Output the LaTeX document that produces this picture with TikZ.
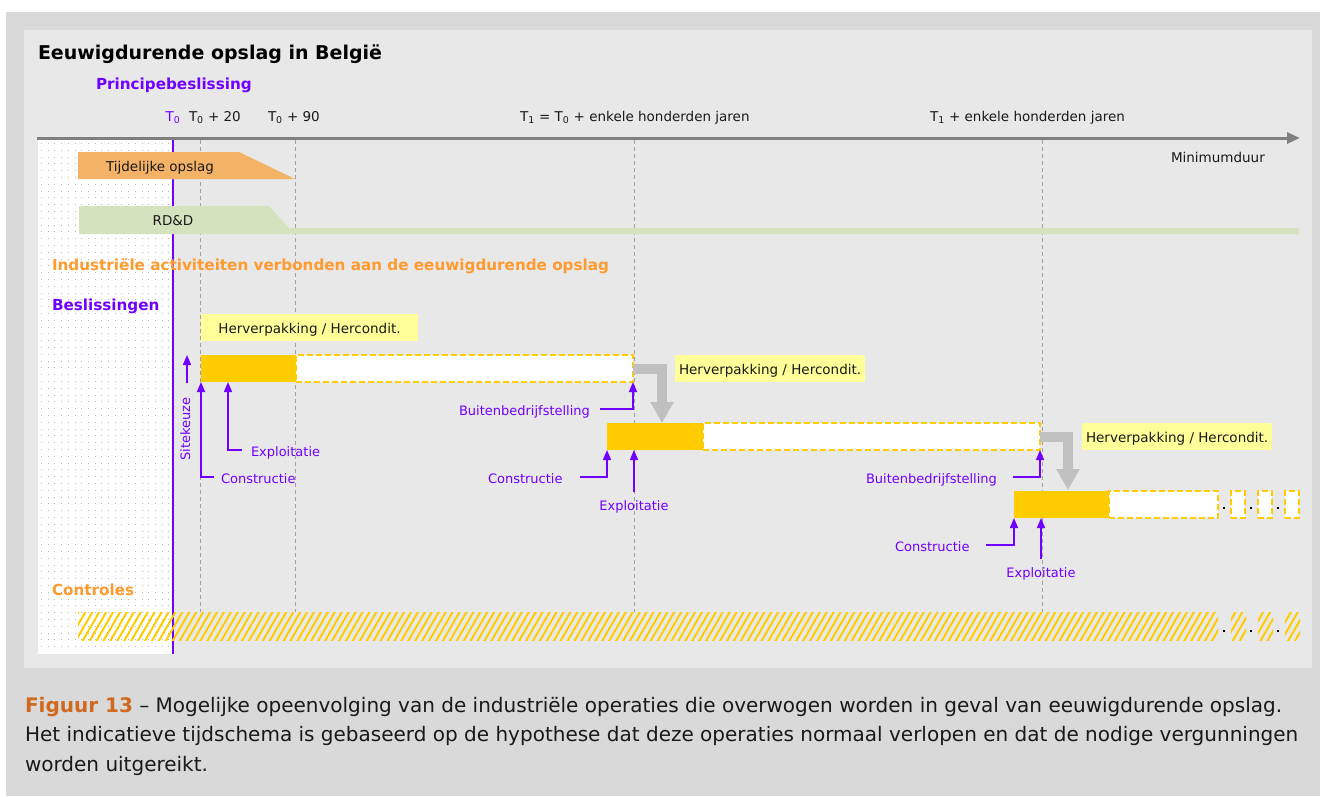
\documentclass[tikz,border=0pt]{standalone}
\usepackage{fontspec}
\setmainfont{DejaVu Sans}
\usetikzlibrary{arrows.meta,patterns.meta}
\definecolor{pur}{HTML}{7000FF}
\definecolor{orgtxt}{HTML}{FF9A2E}
\definecolor{capor}{HTML}{D0691E}
\definecolor{outerbg}{HTML}{D9D9D9}
\definecolor{panel}{HTML}{E8E8E8}
\definecolor{tij}{HTML}{F4B266}
\definecolor{rdd}{HTML}{D4E2BE}
\definecolor{gold}{HTML}{FFCC00}
\definecolor{lyel}{HTML}{FFFF99}
\definecolor{garr}{HTML}{C0C0C0}
\definecolor{axisc}{HTML}{808080}
\definecolor{tickc}{HTML}{A0A0A0}
\definecolor{dotgray}{HTML}{B8B8B8}
\newcommand\fsz[1]{\fontsize{#1}{#1}\selectfont}
\begin{document}
\begin{tikzpicture}[x=1pt,y=-1pt,
  txt/.style={inner sep=0pt,outer sep=0pt,font=\fsz{13.5},text=black!90},
  ptxt/.style={inner sep=0pt,outer sep=0pt,font=\fsz{13},text=pur},
  head/.style={inner sep=0pt,outer sep=0pt,font=\fsz{15.2}\bfseries},
  ybox/.style={fill=lyel,inner ysep=0pt,inner xsep=4pt,outer sep=0pt,minimum height=27pt,text height=12pt,text depth=0pt,font=\fsz{13.5},text=black!90,anchor=north west},
  sbar/.style={fill=gold,inner sep=0pt,outer sep=0pt,minimum height=27pt,anchor=north west},
  dbar/.style={fill=white,draw=gold,line width=1.6pt,dash pattern=on 6pt off 3pt,inner sep=0pt,outer sep=0pt,minimum height=27pt,anchor=north west},
  hbar/.style={pattern={Lines[angle=60,distance=6pt,line width=2pt]},pattern color=gold,inner sep=0pt,outer sep=0pt,minimum height=28pt,anchor=north west},
  parrow/.style={draw=pur,line width=1.5pt,-{Triangle[length=10pt,width=8pt]}},
  garrow/.style={draw=garr,line width=10pt,line join=miter,-{Triangle[length=21pt,width=22pt]}},
  tick/.style={draw=tickc,line width=0.8pt,dash pattern=on 4pt off 3pt},
  dotc/.style={fill=black,inner sep=0pt,outer sep=0pt,minimum size=2.2pt}
]
% backgrounds
\useasboundingbox (0,0) rectangle (1320,796);
\fill[white] (0,0) rectangle (1320,796);
\fill[outerbg] (6,12) rectangle (1320,796);
\fill[panel] (24,30) rectangle (1312,668);
% dotted region
\fill[white] (38,140) rectangle (172,654);
\foreach \i in {0,...,19} \foreach \j in {0,...,74} \fill[dotgray] ({41+\i*6.7},{143+\j*6.8}) rectangle ++(1,1);
% tick lines
\foreach \xx in {200,295,634,1042} \draw[tick] (\xx,140) -- (\xx,612);
% purple line
\draw[pur,line width=2pt] (173,140) -- (173,654);
% axis
\coordinate (axL) at (37,138);
\coordinate (axR) at (1300,138);
\draw[draw=axisc,line width=3pt,-{Triangle[length=13pt,width=11pt]}] (axL) -- (axR);
% headings
\node[head,font=\fsz{19}\bfseries,anchor=base west] (title) at (38,59) {Eeuwigdurende opslag in België};
\node[head,text=pur,anchor=base west] (princ) at (96,89) {Principebeslissing};
\node[ptxt,font=\fsz{13.5},anchor=base] (t0) at (173,121) {T\textsubscript{0}};
\node[txt,anchor=base west] (t20) at (189,121) {T\textsubscript{0} + 20};
\node[txt,anchor=base west] (t90) at (268,121) {T\textsubscript{0} + 90};
\node[txt,anchor=base west] (t1) at (520,121) {T\textsubscript{1} = T\textsubscript{0} + enkele honderden jaren};
\node[txt,anchor=base west] (t2) at (930,121) {T\textsubscript{1} + enkele honderden jaren};
\node[txt,anchor=base west] (minduur) at (1171,162) {Minimumduur};
% tijdelijke opslag & RD&D
\fill[tij] (78,152) -- (239,152) -- (295,179) -- (78,179) -- cycle;
\node[txt,anchor=base] (tijd) at (160,171) {Tijdelijke opslag};
\fill[rdd] (79,206) -- (269,206) -- (289,228) -- (1299,228) -- (1299,234) -- (79,234) -- cycle;
\node[txt,anchor=base] (rdd) at (173,225) {RD\&D};
\node[head,text=orgtxt,anchor=base west] (indus) at (52,270) {Industriële activiteiten verbonden aan de eeuwigdurende opslag};
\node[head,text=pur,anchor=base west] (besl) at (52,310) {Beslissingen};
\node[head,text=orgtxt,anchor=base west] (contr) at (52,595) {Controles};
% labels
\node[ybox,minimum width=217pt] (h1) at (201,314) {Herverpakking / Hercondit.};
\node[ybox,minimum width=190pt] (h2) at (675,355) {Herverpakking / Hercondit.};
\node[ybox,minimum width=190pt] (h3) at (1082,423) {Herverpakking / Hercondit.};
% bars
\node[dbar,minimum width=337pt] (b1d) at (296,355) {};
\node[sbar,minimum width=95pt] (b1s) at (201,355) {};
\node[dbar,minimum width=337pt] (b2d) at (703,423) {};
\node[sbar,minimum width=96pt] (b2s) at (607,423) {};
\node[dbar,minimum width=109pt] (b3d) at (1109,491) {};
\node[sbar,minimum width=95pt] (b3s) at (1014,491) {};
\node[dbar,minimum width=14pt] (b3e) at (1231,491) {};
\node[dbar,minimum width=14pt] (b3f) at (1258,491) {};
\node[dbar,minimum width=14pt] (b3g) at (1285,491) {};
\node[dotc] (bd1) at (1224,508) {};
\node[dotc] (bd2) at (1251,508) {};
\node[dotc] (bd3) at (1278,508) {};
% controls
\node[hbar,minimum width=1140pt] (c1) at (78,612) {};
\node[hbar,minimum width=15pt] (c2) at (1231,612) {};
\node[hbar,minimum width=15pt] (c3) at (1258,612) {};
\node[hbar,minimum width=15pt] (c4) at (1285,612) {};
\node[dotc] (cd1) at (1224,631) {};
\node[dotc] (cd2) at (1251,631) {};
\node[dotc] (cd3) at (1278,631) {};
% grey arrows
\coordinate (g1) at (662,423);
\coordinate (g2) at (1068,490);
\draw[garrow] (b1d.east) -| (g1);
\draw[garrow] (b2d.east) -| (g2);
% purple labels
\node[ptxt,rotate=90,anchor=base] (site) at (190,429) {Sitekeuze};
\node[ptxt,anchor=base west] (con1) at (221,483) {Constructie};
\node[ptxt,anchor=base west] (exp1) at (251,456) {Exploitatie};
\node[ptxt,anchor=base west] (bui1) at (459,415) {Buitenbedrijfstelling};
\node[ptxt,anchor=base west] (con2) at (488,483) {Constructie};
\node[ptxt,anchor=base] (exp2) at (634,510) {Exploitatie};
\node[ptxt,anchor=base west] (bui2) at (866,483) {Buitenbedrijfstelling};
\node[ptxt,anchor=base west] (con3) at (895,551) {Constructie};
\node[ptxt,anchor=base] (exp3) at (1041,577) {Exploitatie};
% purple arrows
\coordinate (sk) at (187,383);
\draw[parrow] (sk) -- (sk |- b1s.north);
\coordinate (a1) at (214,477);
\draw[parrow] (a1) -| (b1s.south west);
\coordinate (a2) at (242,450);
\draw[parrow] (a2) -| ([xshift=27pt]b1s.south west);
\coordinate (a3) at (600,409);
\draw[parrow] (a3) -| (b1d.south east);
\coordinate (a4) at (580,477);
\draw[parrow] (a4) -| (b2s.south west);
\coordinate (a5) at (634,492);
\draw[parrow] (a5) -- (a5 |- b2s.south);
\coordinate (a6) at (1013,477);
\draw[parrow] (a6) -| (b2d.south east);
\coordinate (a7) at (986,545);
\draw[parrow] (a7) -| (b3s.south west);
\coordinate (a8) at (1041,559);
\draw[parrow] (a8) -- (a8 |- b3s.south);
% caption
\node[txt,font=\fsz{20},anchor=base west] (cap1) at (25,712) {\textcolor{capor}{\bfseries Figuur 13} – Mogelijke opeenvolging van de industriële operaties die overwogen worden in geval van eeuwigdurende opslag.};
\node[txt,font=\fsz{20},anchor=base west] (cap2) at (25,741) {Het indicatieve tijdschema is gebaseerd op de hypothese dat deze operaties normaal verlopen en dat de nodige vergunningen};
\node[txt,font=\fsz{20},anchor=base west] (cap3) at (25,771) {worden uitgereikt.};
\end{tikzpicture}
\end{document}
